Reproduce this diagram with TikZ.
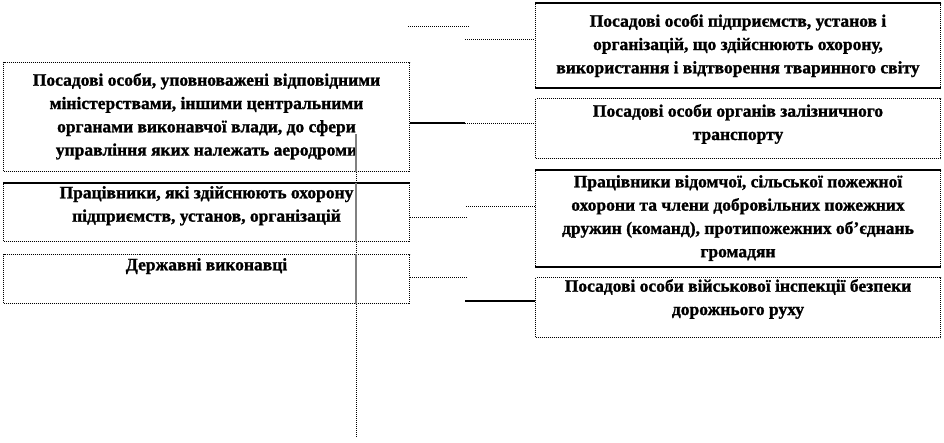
\documentclass[tikz,border=0pt]{standalone}
\usepackage{fontspec}
\setmainfont[BoldFeatures={FakeBold=1.2}]{Liberation Serif}
\usetikzlibrary{positioning}
\tikzstyle{box}=[rectangle,draw,densely dotted,line width=1pt,inner sep=0pt,anchor=north west]
\newcommand{\boxnode}{\node[box]}
\tikzstyle{txt}=[align=center,inner sep=0pt,font=\fontsize{17.5}{23.3}\selectfont\bfseries]
\newcommand{\txtnode}{\node[txt]}
\tikzstyle{dots}=[densely dotted,line width=1pt]
\tikzstyle{solidline}=[solid,line width=1.2pt]
\tikzstyle{greyline}=[solid,gray,line width=1.6pt]
\begin{document}
\begin{tikzpicture}[x=1pt,y=-1pt]
			\useasboundingbox (0,0) rectangle (944,442);
			% % % % % % % % % % % % % % % % % % % % % % % % % % % % % 
			\boxnode [minimum width=406pt,minimum height=109pt] (posad) at (3,62) {};
			\boxnode [minimum width=406pt,minimum height=58pt] (okhor) at (3,183) {};
			\boxnode [minimum width=406pt,minimum height=49pt] (derzh) at (3,254) {};
			%*********************
			\boxnode [minimum width=405pt,minimum height=84pt] (tvar) at (535,3) {};
			\boxnode [minimum width=405pt,minimum height=60pt] (zaliz) at (535,98) {};
			\boxnode [minimum width=405pt,minimum height=96pt] (pozh) at (535,170) {};
			\boxnode [minimum width=405pt,minimum height=60pt] (vijsk) at (535,277) {};
			%*********************
			\txtnode [below=11pt of posad.north] (posadt) {Посадові особи, уповноважені відповідними\\ міністерствами, іншими центральними\\ органами виконавчої влади, до сфери\\ управління яких належать аеродроми};
			\txtnode [below=3pt of okhor.north] (okhort) {Працівники, які здійснюють охорону\\ підприємств, установ, організацій};
			\txtnode [below=4pt of derzh.north] (derzht) {Державні виконавці};
			\txtnode [below=11pt of tvar.north] (tvart) {Посадові особі підприємств, установ і\\ організацій, що здійснюють охорону,\\ використання і відтворення тваринного світу};
			\txtnode [below=6pt of zaliz.north] (zalizt) {Посадові особи органів залізничного\\ транспорту};
			\txtnode [below=5pt of pozh.north] (pozht) {Працівники відомчої, сільської пожежної\\ охорони та члени добровільних пожежних\\ дружин (команд), протипожежних об’єднань\\ громадян};
			\txtnode [below=2pt of vijsk.north] (vijskt) {Посадові особи військової інспекції безпеки\\ дорожнього руху};
			% % % % % % % % % % % % % % % % %
			\coordinate (s1) at (408,26);
			\coordinate (s2) at (469,26);
			\coordinate (k1) at (465,39);
			\coordinate (k2) at (465,123);
			\coordinate (k3) at (466,206);
			\coordinate (k4) at (468,217);
			\coordinate (k5) at (468,277);
			\coordinate (k6) at (465,301);
			\coordinate (vtop) at (356,134);
			\coordinate (vend) at (356,437);
			\path
			% % % % % % % % % % % % % % % % %
			(tvar.north west) edge [solidline] (tvar.north east)
			(tvar.south west) edge [solidline] (tvar.south east)
			(pozh.north west) edge [solidline] (pozh.north east)
			(pozh.south west) edge [solidline] (pozh.south east)
			(okhor.north west) edge [solidline] (okhor.north east)
			%**************
			(s1) edge [dots] (s2)
			(k1) edge [dots] (k1 -| tvar.west)
			(k2 -| posad.east) edge [solidline] (k2)
			(k2) edge [dots] (k2 -| zaliz.west)
			(k3) edge [dots] (k3 -| pozh.west)
			(k4 -| okhor.east) edge [dots] (k4)
			(k5 -| derzh.east) edge [dots] (k5)
			(k6) edge [solidline] (k6 -| vijsk.west)
			%**************
			(vtop) edge [dots] (vend)
			(vtop) edge [greyline] (vtop |- posad.south)
			(vtop |- okhor.north) edge [greyline] (vtop |- okhor.south)
			(vtop |- derzh.north) edge [greyline] (vtop |- derzh.south)
			;
\end{tikzpicture}
\end{document}
